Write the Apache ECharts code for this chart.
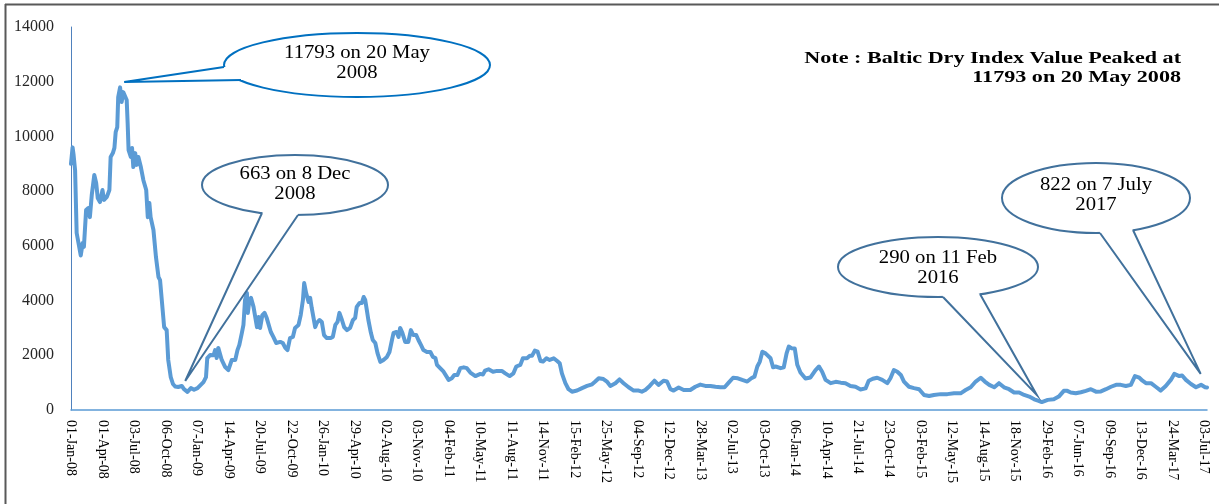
<!DOCTYPE html>
<html>
<head>
<meta charset="utf-8">
<script src="https://cdn.jsdelivr.net/npm/echarts@6/dist/echarts.min.js"></script>
<style>
  html, body { margin: 0; padding: 0; background: #fff; }
  #chart { width: 1219px; height: 504px; }
</style>
</head>
<body>
<div id="chart"></div>
<script>
// Tick labels (one every tick unit along the x axis)
const tickLabels = ['01-Jan-08','01-Apr-08','03-Jul-08','06-Oct-08','07-Jan-09','14-Apr-09','20-Jul-09','22-Oct-09',
  '26-Jan-10','29-Apr-10','02-Aug-10','03-Nov-10','04-Feb-11','10-May-11','11-Aug-11','14-Nov-11',
  '15-Feb-12','25-May-12','04-Sep-12','12-Dec-12','28-Mar-13','02-Jul-13','03-Oct-13','06-Jan-14',
  '10-Apr-14','21-Jul-14','23-Oct-14','03-Feb-15','12-May-15','14-Aug-15','18-Nov-15','29-Feb-16',
  '07-Jun-16','09-Sep-16','13-Dec-16','24-Mar-17','03-Jul-17'];

// Baltic Dry Index: [position in tick units, index value]
const bdi2008 = [[0.00,9000],[0.05,9600],[0.08,9350],[0.13,8770],[0.18,6470],[0.23,6400],[0.31,5650],[0.37,6100],[0.41,5960],[0.48,7310],
  [0.55,7380],[0.60,7050],[0.66,7860],[0.74,8590],[0.80,8300],[0.85,7750],[0.92,7600],[1.00,8040],[1.05,7680],[1.14,7790],
  [1.22,8040],[1.26,9250],[1.33,9390],[1.38,9580],[1.42,10160],[1.47,10340],[1.50,11440],[1.56,11793],[1.61,11260],[1.66,11620],
  [1.72,11620],[1.77,11330],[1.80,10490],[1.83,9500],[1.90,9250],[1.94,9580],[1.98,8880],[2.04,9390],[2.09,8960],[2.14,9250],
  [2.22,8880],[2.30,8400],[2.39,8040],[2.44,7050],[2.49,7570],[2.53,7050],[2.62,6580],[2.70,5590],[2.78,4860],[2.83,4750],
  [2.89,4800],[2.96,3030],[3.04,2920],[3.09,1830],[3.17,1200],[3.24,950],[3.31,860],[3.41,840],[3.52,880],[3.59,760],
  [3.70,663],[3.81,800],[3.91,740]];
const bdi2009to2011 = [[4.02,800],[4.08,820],[4.21,1020],[4.29,1200],[4.33,1900],[4.42,2010],[4.53,2000],
  [4.58,2190],[4.63,1900],[4.68,2270],[4.79,1830],[4.90,1570],[5.00,1460],[5.11,1830],[5.22,1830],[5.29,2190],[5.35,2380],
  [5.43,2820],[5.48,3110],[5.53,4020],[5.59,4280],[5.62,3550],[5.67,4020],[5.72,4100],[5.80,3770],[5.85,3840],[5.91,3030],
  [5.96,3400],[6.01,3000],[6.08,3470],[6.15,3550],[6.22,3360],[6.27,3400],[6.35,2850],[6.43,2670],[6.52,2450],[6.65,2490],
  [6.73,2450],[6.81,2270],[6.88,2190],[6.96,2630],[7.05,2670],[7.12,3000],[7.23,3110],[7.30,3470],[7.37,4020],[7.41,4640],
  [7.47,4280],[7.55,3950],[7.60,4100],[7.65,3730],[7.71,3770],[7.76,3030],[7.81,3180],[7.90,3290],[7.97,3220],[8.04,2740],
  [8.13,2630],[8.24,2630],[8.32,2670],[8.40,3110],[8.47,3220],[8.53,3550],[8.61,3290],[8.68,3030],[8.77,2920],[8.87,3000],
  [8.96,3290],[9.03,3360],[9.08,3770],[9.17,3910],[9.24,3910],[9.30,4130],[9.35,4020],[9.40,3660],[9.45,3290],[9.53,2820],
  [9.59,2560],[9.67,2450],[9.74,2080],[9.83,1760],[9.93,1830],[10.04,1940],[10.12,2120],[10.20,2560],[10.25,2820],[10.34,2850],
  [10.41,2670],[10.46,3000],[10.53,2820],[10.62,2490],[10.72,2490],[10.80,2920],[10.88,2740],[10.97,2740],[11.04,2560],[11.12,2380],
  [11.20,2190],[11.31,2120],[11.42,2120],[11.50,1940],[11.58,1900],[11.63,1650],[11.73,1530],[11.84,1400],[12.00,1100],[12.10,1160],
  [12.18,1280],[12.28,1280],[12.37,1530],[12.48,1560],[12.58,1530],[12.69,1370],[12.85,1240],[13.01,1320],[13.09,1300],[13.16,1440],
  [13.27,1490],[13.41,1400],[13.54,1430],[13.69,1430],[13.80,1340],[13.94,1240],[14.06,1340],[14.15,1590],[14.28,1650],[14.36,1890],
  [14.49,1890],[14.58,1980],[14.65,1980],[14.74,2170],[14.83,2130],[14.92,1790],[15.00,1770],[15.11,1890],[15.21,1830],[15.34,1890],
  [15.45,1790],[15.53,1710],[15.60,1340],[15.71,980]];
const bdi2012to2014 = [[15.81,760],[15.92,670],[16.08,710],[16.24,800],[16.40,880],[16.56,940],[16.66,1040],
  [16.77,1160],[16.92,1130],[17.03,1040],[17.14,880],[17.30,980],[17.43,1120],[17.56,980],[17.72,830],[17.88,710],[18.04,710],
  [18.14,670],[18.25,730],[18.39,880],[18.54,1070],[18.67,920],[18.83,1070],[18.94,1040],[19.05,760],[19.15,710],[19.31,820],
  [19.47,730],[19.68,730],[19.84,850],[20.00,930],[20.16,880],[20.32,880],[20.48,850],[20.64,830],[20.77,830],[20.90,1000],
  [21.04,1180],[21.19,1160],[21.33,1100],[21.49,1040],[21.62,1160],[21.72,1220],[21.81,1590],[21.89,1770],[21.97,2130],[22.07,2070],
  [22.12,2130],[22.23,1890],[22.31,1560],[22.39,1590],[22.55,1530],[22.65,1560],[22.74,2070],[22.81,2320],[22.89,2260],[23.00,2250],
  [23.08,1650],[23.18,1370],[23.34,1150],[23.50,1190],[23.66,1460],[23.77,1590],[23.87,1400],[23.98,1100],[24.14,980],[24.30,1030],
  [24.46,1000],[24.61,980],[24.77,880],[24.93,850],[25.09,750],[25.25,790],[25.35,1070],[25.48,1140],[25.62,1180],[25.78,1100],
  [25.94,980],[26.04,1160],[26.15,1460],[26.26,1400],[26.37,1280],[26.47,1040],[26.63,850],[26.79,800],[26.95,760]];
const bdi2015to2017 = [[27.11,550],[27.27,510],[27.42,550],[27.64,580],[27.85,580],[28.06,610],[28.27,610],[28.43,730],[28.59,830],
  [28.75,1040],[28.91,1180],[29.04,1040],[29.18,920],[29.34,830],[29.49,980],[29.65,830],[29.81,760],[29.97,640],[30.13,640],
  [30.29,550],[30.45,490],[30.61,390],[30.73,340],[30.85,290],[31.04,370],[31.23,390],[31.39,490],[31.55,700],[31.66,700],
  [31.77,640],[31.93,610],[32.09,650],[32.25,700],[32.41,760],[32.57,670],[32.73,680],[32.89,760],[33.05,850],[33.21,920],
  [33.36,920],[33.52,880],[33.68,920],[33.81,1240],[33.95,1180],[34.05,1070],[34.16,980],[34.32,980],[34.47,850],[34.63,710],
  [34.79,880],[34.95,1100],[35.06,1320],[35.22,1240],[35.31,1260],[35.43,1100],[35.59,950],[35.75,830],[35.91,920],[36.04,830],
  [36.10,822]];

const yTicks = [0, 2000, 4000, 6000, 8000, 10000, 12000, 14000];

// Callout annotations: tip is in data units, balloon layout in pixels
const calloutText = [['11793 on 20 May', '2008'], ['663 on 8 Dec', '2008'], ['290 on 11 Feb', '2016'], ['822 on 7 July', '2017']];
const calloutTips = [[1.69, 11990], [3.63, 1060], [30.69, 550], [35.90, 1320]];
const calloutLayout = [
  { c: [357, 65], r: [133, 32], base: [[224, 67], [241, 80]], text: [53, 73], color: '#0070C0' },
  { c: [295, 185], r: [93, 30], base: [[262, 213], [298, 215]], text: [174, 194], color: '#41719C' },
  { c: [938, 267], r: [100, 30], base: [[943, 297], [980, 294]], text: [258, 278], color: '#41719C' },
  { c: [1096, 198], r: [94, 35], base: [[1100, 233], [1133, 230]], text: [185, 205], color: '#41719C' }
];
const noteLines = ['Note : Baltic Dry Index Value Peaked at', '11793 on 20 May 2008'];

const serif = '"Liberation Serif", "Times New Roman", serif';
const chart = echarts.init(document.getElementById('chart'), null, { renderer: 'canvas' });

const allPoints = bdi2008.concat(bdi2009to2011, bdi2012to2014, bdi2015to2017);

chart.setOption({
  backgroundColor: '#fff',
  animation: false,
  grid: { left: 71, right: 12, top: 27, bottom: 94, containLabel: false, outerBoundsMode: 'none' },
  xAxis: {
    type: 'value', min: 0, max: 36.1, interval: 1,
    axisLine: { show: true, lineStyle: { color: '#5B9BD5', width: 1.5 } },
    axisTick: { show: false },
    splitLine: { show: false },
    axisLabel: {
      rotate: -90, margin: 10, fontFamily: serif, fontSize: 14, color: '#000',
      showMaxLabel: false,
      formatter: function (v) {
        const i = Math.round(v);
        return Math.abs(v - i) < 1e-6 && tickLabels[i] ? tickLabels[i] : '';
      }
    }
  },
  yAxis: {
    type: 'value', min: yTicks[0], max: yTicks[yTicks.length - 1], interval: yTicks[1] - yTicks[0],
    axisLine: { show: true, lineStyle: { color: '#4F81BD', width: 1 } },
    axisTick: { show: false },
    splitLine: { show: false },
    axisLabel: { margin: 17, fontFamily: serif, fontSize: 16, color: '#262626',
      formatter: function (v) { return String(v); } }
  },
  series: [{
    type: 'line', data: allPoints, showSymbol: false, smooth: false,
    lineStyle: { color: '#5B9BD5', width: 4, cap: 'round', join: 'round' },
    z: 2
  }]
});

const g = [];
// outer frame (top and left edges)
g.push({ type: 'line', shape: { x1: 5, y1: 4.5, x2: 1219, y2: 4.5 }, style: { stroke: '#595959', lineWidth: 2 }, z: 1 });
g.push({ type: 'line', shape: { x1: 5.5, y1: 4, x2: 5.5, y2: 504 }, style: { stroke: '#595959', lineWidth: 2 }, z: 1 });

function toward(p, q, f) { return [p[0] + (q[0] - p[0]) * f, p[1] + (q[1] - p[1]) * f]; }

calloutLayout.forEach(function (L, k) {
  const tip = chart.convertToPixel({ gridIndex: 0 }, calloutTips[k]);
  g.push({ type: 'ellipse', shape: { cx: L.c[0], cy: L.c[1], rx: L.r[0], ry: L.r[1] },
    style: { fill: '#fff', stroke: L.color, lineWidth: 2 }, z: 10 });
  // white patch hiding the balloon outline where the tail joins
  g.push({ type: 'polygon', shape: { points: [L.base[0], toward(L.base[0], tip, 0.08), toward(L.base[1], tip, 0.08), L.base[1], L.c] },
    style: { fill: '#fff', stroke: null }, z: 11 });
  g.push({ type: 'polyline', shape: { points: [L.base[0], tip, L.base[1]] },
    style: { fill: null, stroke: L.color, lineWidth: 2 }, z: 12 });
  calloutText[k].forEach(function (t, j) {
    g.push({ type: 'text', z: 13, x: L.c[0], y: L.text[j], scaleX: 1.15,
      style: { text: t, x: 0, y: 0, align: 'center', textAlign: 'center',
      verticalAlign: 'middle', textVerticalAlign: 'middle', font: '18px ' + serif, fill: '#000' } });
  });
});

noteLines.forEach(function (t, j) {
  g.push({ type: 'text', z: 13, x: 1181, y: 59 + j * 19, scaleX: 1.3,
    style: { text: t, x: 0, y: 0, align: 'right', textAlign: 'right',
    verticalAlign: 'middle', textVerticalAlign: 'middle', font: 'bold 17px ' + serif, fill: '#000' } });
});

chart.setOption({ graphic: g });
</script>
</body>
</html>
